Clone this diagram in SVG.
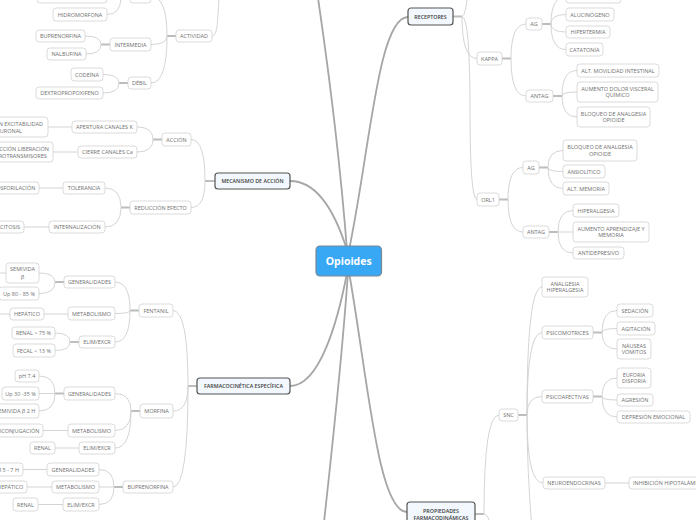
<svg xmlns="http://www.w3.org/2000/svg" width="696" height="520" viewBox="0 0 696 520">
<style>
.n rect{fill:#fff;stroke:#d2d2d2;stroke-width:0.8}
.n text,.m text{font-family:"Open Sans","Liberation Sans",sans-serif;font-size:5.5px;fill:#707070;text-anchor:middle}
.m rect{fill:#f2f8fe;stroke:#555;stroke-width:1.2}
.m text{fill:#3a3a3a;font-weight:600;font-size:5.3px}
.e{text-anchor:end !important}
.st{text-anchor:start !important}
.c path{fill:none;stroke:#cfcfcf;stroke-width:0.9}
.c .s{stroke:#bdbdbd;stroke-width:2}
.c .k{stroke:#a6a6a6;stroke-width:1.8}
</style>
<rect width="696" height="520" fill="#fff"/>
<g id="connectors" class="c">
<!-- center branches -->
<path class="k" d="M347,250 C340,160 330,80 318,-2"/>
<path class="k" d="M349,250 C370,150 378,17 408,17"/>
<path class="k" d="M290,181 C318,181 336,215 347,250"/>
<path class="k" d="M290,386 C320,386 338,320 347,273"/>
<path class="k" d="M348,272 C342,360 332,450 324,522"/>
<path class="k" d="M349,272 C368,380 378,512 407,512"/>
<!-- ACTIVIDAD -->
<path d="M212,36 C219,36 217,12 220,-10"/>
<path class="s" d="M167,36 H176"/>
<path d="M167,36 Q167,-3.5 151,-3.5"/>
<path d="M167,36 Q167,44.5 151,44.5"/>
<path d="M167,36 Q167,83 151,83"/>
<path class="s" d="M121,-3.5 H130"/>
<path d="M121,-3.5 H107"/>
<path d="M121,-3.5 Q121,14.5 107,14.5"/>
<path class="s" d="M101,44.5 H110"/>
<path d="M101,44.5 Q101,36 85,36"/>
<path d="M101,44.5 Q101,54 86,54"/>
<path class="s" d="M119,83 H128"/>
<path d="M119,83 Q119,74.5 103,74.5"/>
<path d="M119,83 Q119,93 103,93"/>
<!-- MECANISMO -->
<path class="s" d="M205,181 H215"/>
<path d="M205,181 Q205,139.5 191,139.5"/>
<path d="M205,181 Q205,207.5 191,207.5"/>
<path class="s" d="M153,139.5 H162"/>
<path d="M153,139.5 Q153,127 137,127"/>
<path d="M153,139.5 Q153,152 137,152"/>
<path d="M48,127 H72"/>
<path d="M53,152 H78"/>
<path class="s" d="M121,207.5 H130"/>
<path d="M121,207.5 Q121,188 105,188"/>
<path d="M121,207.5 Q121,227 105,227"/>
<path d="M39,188 H63"/>
<path d="M24,227 H49"/>
<!-- FARMACOCINETICA -->
<path class="s" d="M188,386 H197"/>
<path d="M188,386 Q188,310.5 173,310.5"/>
<path d="M188,386 Q188,411 173,411"/>
<path d="M188,386 Q188,487 173,487"/>
<path class="s" d="M130,310.5 H139"/>
<path d="M130,310.5 Q130,282 115,282"/>
<path d="M130,310.5 Q130,313.5 115,313.5"/>
<path d="M130,310.5 Q130,342 115,342"/>
<path class="s" d="M55,282 H64"/>
<path d="M55,282 Q55,273 39,273"/>
<path d="M55,282 Q55,293.5 39,293.5"/>
<path d="M0,273 H6"/>
<path d="M44,314 H68"/>
<path d="M0,314 H10"/>
<path class="s" d="M70,342 H79"/>
<path d="M70,342 Q70,333 55,333"/>
<path d="M70,342 Q70,350.5 55,350.5"/>
<path class="s" d="M131,411 H140"/>
<path d="M131,411 Q131,393.5 115,393.5"/>
<path d="M131,411 Q131,430.5 115,430.5"/>
<path d="M131,411 Q131,448 115,448"/>
<path class="s" d="M55,393.5 H64"/>
<path d="M55,393.5 Q55,376 39,376"/>
<path d="M55,393.5 H39"/>
<path d="M55,393.5 Q55,411 39,411"/>
<path d="M43,430.5 H68"/>
<path d="M55,448 H79"/>
<path class="s" d="M114,487 H123"/>
<path d="M114,487 Q114,469.5 99,469.5"/>
<path d="M114,487 H99"/>
<path d="M114,487 Q114,504.5 99,504.5"/>
<path d="M23,469.5 H47"/>
<path d="M27,487 H52"/>
<path d="M38,504.5 H63"/>
<!-- RECEPTORES -->
<path class="s" d="M453,16.5 H462"/>
<path d="M462,16.5 Q466,16.5 468,-12"/>
<path d="M462,16.5 Q462,58.5 477,58.5"/>
<path d="M462,16.5 Q470,16.5 470,110 Q470,199.5 477,199.5"/>
<path class="s" d="M502,58.5 H511"/>
<path d="M511,58.5 Q511,24 526,24"/>
<path d="M511,58.5 Q511,96 526,96"/>
<path class="s" d="M542,24 H551"/>
<path d="M551,24 Q551,-3.5 566,-3.5"/>
<path d="M551,24 Q551,14.5 566,14.5"/>
<path d="M551,24 Q551,32 566,32"/>
<path d="M551,24 Q551,49.5 566,49.5"/>
<path class="s" d="M553,96 H562"/>
<path d="M562,96 Q562,70.5 577,70.5"/>
<path d="M562,96 Q562,92 577,92"/>
<path d="M562,96 Q562,117 577,117"/>
<path class="s" d="M499,199.5 H508"/>
<path d="M508,199.5 Q508,167.5 523,167.5"/>
<path d="M508,199.5 Q508,232 523,232"/>
<path class="s" d="M539,167.5 H548"/>
<path d="M548,167.5 Q548,150.5 563,150.5"/>
<path d="M548,167.5 Q548,171.5 563,171.5"/>
<path d="M548,167.5 Q548,188.5 563,188.5"/>
<path class="s" d="M549,232 H558"/>
<path d="M558,232 Q558,210.5 573,210.5"/>
<path d="M558,232 H573"/>
<path d="M558,232 Q558,253 573,253"/>
<!-- PROPIEDADES -->
<path class="s" d="M475,514 H484"/>
<path d="M484,514 Q484,415 499,415"/>
<path d="M484,514 Q489,514 491,530"/>
<path class="s" d="M518,415 H527"/>
<path d="M527,415 Q527,287 542,287"/>
<path d="M527,415 Q527,332.5 542,332.5"/>
<path d="M527,415 Q527,396.5 542,396.5"/>
<path d="M527,415 Q527,483 543,483"/>
<path d="M527,415 Q527,470 532,530"/>
<path class="s" d="M593,332.5 H602"/>
<path d="M602,332.5 Q602,310.5 617,310.5"/>
<path d="M602,332.5 Q602,328.5 617,328.5"/>
<path d="M602,332.5 Q602,349 617,349"/>
<path class="s" d="M593,396.5 H602"/>
<path d="M602,396.5 Q602,378 617,378"/>
<path d="M602,396.5 Q602,400 617,400"/>
<path d="M602,396.5 Q602,417 617,417"/>
<path d="M605,483 H629"/>
</g>

<g id="center"><rect x="316" y="246" width="65.5" height="30" rx="4" fill="#38a8f5" stroke="#7b8793" stroke-width="1.2"/><text x="348.7" y="265" font-family="'Open Sans','Liberation Sans',sans-serif" font-size="10.5" font-weight="700" fill="#fff" text-anchor="middle">Opioides</text></g>

<g id="receptores" class="m"><rect x="408" y="8" width="45" height="17" rx="3"/><text x="430.5" y="18.5">RECEPTORES</text></g>
<g id="mecanismo" class="m"><rect x="215" y="173" width="75" height="16" rx="3"/><text x="252.5" y="183">MECANISMO DE ACCIÓN</text></g>
<g id="farmaco" class="m"><rect x="197" y="378" width="93" height="16" rx="3"/><text x="243.5" y="388">FARMACOCINÉTICA ESPECÍFICA</text></g>
<g id="propiedades" class="m"><rect x="407" y="502" width="68" height="30" rx="3"/><text x="441" y="513">PROPIEDADES</text><text x="441" y="520">FARMACODINÁMICAS</text></g>

<!-- ACTIVIDAD branch -->
<g id="top1" class="n"><rect x="37" y="-10" width="70" height="13" rx="3"/></g>
<g id="hidromorfona" class="n"><rect x="53" y="8" width="54" height="13" rx="3"/><text x="80" y="16.5">HIDROMORFONA</text></g>
<g id="top2" class="n"><rect x="130" y="-10" width="21" height="13" rx="3"/></g>
<g id="actividad" class="n"><rect x="176" y="30" width="36" height="12" rx="3"/><text x="194" y="38">ACTIVIDAD</text></g>
<g id="intermedia" class="n"><rect x="110" y="38" width="41" height="13" rx="3"/><text x="130.5" y="46.5">INTERMEDIA</text></g>
<g id="buprenorfina1" class="n"><rect x="36" y="30" width="49" height="12" rx="3"/><text x="60.5" y="38">BUPRENORFINA</text></g>
<g id="nalbufina" class="n"><rect x="47" y="48" width="39" height="12" rx="3"/><text x="66.5" y="56">NALBUFINA</text></g>
<g id="debil" class="n"><rect x="128" y="77" width="23" height="12" rx="3"/><text x="139.5" y="85">DÉBIL</text></g>
<g id="codeina" class="n"><rect x="71" y="68" width="32" height="13" rx="3"/><text x="87" y="76.5">CODEÍNA</text></g>
<g id="dextro" class="n"><rect x="36" y="87" width="67" height="12" rx="3"/><text x="69.5" y="95">DEXTROPROPOXIFENO</text></g>

<!-- MECANISMO branch -->
<g id="accion" class="n"><rect x="162" y="133" width="29" height="13" rx="3"/><text x="176.5" y="141.5">ACCIÓN</text></g>
<g id="reduccion" class="n"><rect x="130" y="201" width="61" height="13" rx="3"/><text x="160.5" y="209.5">REDUCCIÓN EFECTO</text></g>
<g id="apertura" class="n"><rect x="72" y="121" width="65" height="12" rx="3"/><text x="104.5" y="129">APERTURA CANALES K</text></g>
<g id="cierre" class="n"><rect x="78" y="146" width="59" height="12" rx="3"/><text x="107.5" y="154">CIERRE CANALES Ca</text></g>
<g id="disminucion" class="n"><rect x="-30" y="117" width="78" height="20" rx="3"/><text class="e" x="43" y="126">DISMINUCIÓN EXCITABILIDAD</text><text class="e" x="22" y="132.7">NEURONAL</text></g>
<g id="reduccionlib" class="n"><rect x="-30" y="142" width="83" height="20" rx="3"/><text class="e" x="49" y="151">REDUCCIÓN LIBERACIÓN</text><text class="e" x="46.7" y="157.7">NEUROTRANSMISORES</text></g>
<g id="tolerancia" class="n"><rect x="63" y="182" width="42" height="12" rx="3"/><text x="84" y="190">TOLERANCIA</text></g>
<g id="fosforilacion" class="n"><rect x="-30" y="182" width="69" height="12" rx="3"/><text class="e" x="35.3" y="190">FOSFORILACIÓN</text></g>
<g id="internalizacion" class="n"><rect x="49" y="221" width="56" height="12" rx="3"/><text x="77" y="229">INTERNALIZACIÓN</text></g>
<g id="endocitosis" class="n"><rect x="-30" y="221" width="54" height="12" rx="3"/><text class="e" x="20" y="229">ENDOCITOSIS</text></g>

<!-- FARMACOCINETICA branch -->
<g id="fentanil" class="n"><rect x="139" y="304" width="34" height="13" rx="3"/><text x="156" y="312.5">FENTANIL</text></g>
<g id="gen1" class="n"><rect x="64" y="276" width="51" height="12" rx="3"/><text x="89.5" y="284">GENERALIDADES</text></g>
<g id="met1" class="n"><rect x="68" y="307" width="47" height="13" rx="3"/><text x="91.5" y="315.5">METABOLISMO</text></g>
<g id="elim1" class="n"><rect x="79" y="336" width="36" height="12" rx="3"/><text x="97" y="344">ELIM/EXCR</text></g>
<g id="semivida1" class="n"><rect x="6" y="263" width="33" height="20" rx="3"/><text x="22.5" y="271.3">SEMIVIDA</text><text x="22.5" y="278.5">β</text></g>
<g id="up1" class="n"><rect x="-1" y="287" width="40" height="13" rx="3"/><text x="19" y="295.5">Up 80 - 85 %</text></g>
<g id="hep1" class="n"><rect x="10" y="308" width="34" height="12" rx="3"/><text x="27" y="316">HEPÁTICO</text></g>
<g id="renal1" class="n"><rect x="12" y="327" width="43" height="12" rx="3"/><text x="33.5" y="335">RENAL &gt; 75 %</text></g>
<g id="fecal1" class="n"><rect x="13" y="344" width="42" height="13" rx="3"/><text x="34" y="352.5">FECAL &lt; 13 %</text></g>
<g id="morfina" class="n"><rect x="140" y="404" width="33" height="14" rx="3"/><text x="156.5" y="413">MORFINA</text></g>
<g id="gen2" class="n"><rect x="64" y="387" width="51" height="13" rx="3"/><text x="89.5" y="395.5">GENERALIDADES</text></g>
<g id="met2" class="n"><rect x="68" y="424" width="47" height="13" rx="3"/><text x="91.5" y="432.5">METABOLISMO</text></g>
<g id="elim2" class="n"><rect x="79" y="442" width="36" height="12" rx="3"/><text x="97" y="450">ELIM/EXCR</text></g>
<g id="ph" class="n"><rect x="15" y="370" width="24" height="12" rx="3"/><text x="27" y="378">pH 7.4</text></g>
<g id="up2" class="n"><rect x="2" y="387" width="37" height="13" rx="3"/><text x="20.5" y="395.5">Up 30 -35 %</text></g>
<g id="semivida2" class="n"><rect x="-20" y="404" width="59" height="14" rx="3"/><text class="e" x="35.3" y="413">SEMIVIDA β 2 H</text></g>
<g id="conjugacion" class="n"><rect x="-30" y="424" width="73" height="13" rx="3"/><text class="e" x="39.5" y="432.5">GLUCURONOCONJUGACIÓN</text></g>
<g id="renal2" class="n"><rect x="30" y="442" width="25" height="12" rx="3"/><text x="42.5" y="450">RENAL</text></g>
<g id="buprenorfina2" class="n"><rect x="123" y="481" width="50" height="12" rx="3"/><text x="148" y="489">BUPRENORFINA</text></g>
<g id="gen3" class="n"><rect x="47" y="463" width="52" height="13" rx="3"/><text x="73" y="471.5">GENERALIDADES</text></g>
<g id="met3" class="n"><rect x="52" y="481" width="47" height="12" rx="3"/><text x="75.5" y="489">METABOLISMO</text></g>
<g id="elim3" class="n"><rect x="63" y="498" width="36" height="13" rx="3"/><text x="81" y="506.5">ELIM/EXCR</text></g>
<g id="sv3" class="n"><rect x="-40" y="463" width="63" height="13" rx="3"/><text class="e" x="19" y="471.5">SEMIVIDA β 5 - 7 H</text></g>
<g id="hep3" class="n"><rect x="-30" y="481" width="57" height="12" rx="3"/><text class="e" x="23.3" y="489">HEPÁTICO</text></g>
<g id="renal3" class="n"><rect x="13" y="498" width="25" height="13" rx="3"/><text x="25.5" y="506.5">RENAL</text></g>

<!-- RECEPTORES branch -->
<g id="kappa" class="n"><rect x="477" y="52" width="25" height="13" rx="3"/><text x="489.5" y="60.5">KAPPA</text></g>
<g id="ag1" class="n"><rect x="526" y="18" width="16" height="12" rx="3"/><text x="534" y="26">AG</text></g>
<g id="topag" class="n"><rect x="566" y="-10" width="55" height="13" rx="3"/></g>
<g id="alucinogeno" class="n"><rect x="566" y="8" width="48" height="13" rx="3"/><text x="590" y="16.5">ALUCINÓGENO</text></g>
<g id="hipertermia" class="n"><rect x="566" y="26" width="44" height="12" rx="3"/><text x="588" y="34">HIPERTERMIA</text></g>
<g id="catatonia" class="n"><rect x="566" y="43" width="37" height="13" rx="3"/><text x="584.5" y="51.5">CATATONÍA</text></g>
<g id="antag1" class="n"><rect x="526" y="90" width="27" height="12" rx="3"/><text x="539.5" y="98">ANTAG</text></g>
<g id="altmov" class="n"><rect x="577" y="64" width="82" height="13" rx="3"/><text x="618" y="72.5">ALT. MOVILIDAD INTESTINAL</text></g>
<g id="aumdolor" class="n"><rect x="577" y="82" width="81" height="20" rx="3"/><text x="617.5" y="90.7">AUMENTO DOLOR VISCERAL</text><text x="617.5" y="97.4">QUÍMICO</text></g>
<g id="bloqueo1" class="n"><rect x="577" y="107" width="73" height="20" rx="3"/><text x="613.5" y="115.7">BLOQUEO DE ANALGESIA</text><text x="613.5" y="122.4">OPIOIDE</text></g>
<g id="orl1" class="n"><rect x="477" y="193" width="22" height="13" rx="3"/><text x="488" y="201.5">ORL1</text></g>
<g id="ag2" class="n"><rect x="523" y="161" width="16" height="13" rx="3"/><text x="531" y="169.5">AG</text></g>
<g id="antag2" class="n"><rect x="523" y="226" width="26" height="12" rx="3"/><text x="536" y="234">ANTAG</text></g>
<g id="bloqueo2" class="n"><rect x="563" y="140" width="74" height="21" rx="3"/><text x="600" y="149.2">BLOQUEO DE ANALGESIA</text><text x="600" y="155.9">OPIOIDE</text></g>
<g id="ansiolitico" class="n"><rect x="563" y="165" width="42" height="13" rx="3"/><text x="584" y="173.5">ANSIOLÍTICO</text></g>
<g id="altmemoria" class="n"><rect x="563" y="182" width="46" height="13" rx="3"/><text x="586" y="190.5">ALT. MEMORIA</text></g>
<g id="hiperalgesia" class="n"><rect x="573" y="204" width="46" height="13" rx="3"/><text x="596" y="212.5">HIPERALGESIA</text></g>
<g id="aumapr" class="n"><rect x="573" y="222" width="76" height="20" rx="3"/><text x="611" y="230.7">AUMENTO APRENDIZAJE Y</text><text x="611" y="237.4">MEMORIA</text></g>
<g id="antidepresivo" class="n"><rect x="573" y="247" width="51" height="12" rx="3"/><text x="598.5" y="255">ANTIDEPRESIVO</text></g>

<!-- PROPIEDADES branch -->
<g id="snc" class="n"><rect x="499" y="409" width="19" height="12" rx="3"/><text x="508.5" y="417">SNC</text></g>
<g id="analgesia" class="n"><rect x="542" y="277" width="46" height="20" rx="3"/><text x="565" y="285.7">ANALGESIA</text><text x="565" y="292.4">HIPERALGESIA</text></g>
<g id="psicomotrices" class="n"><rect x="542" y="326" width="51" height="13" rx="3"/><text x="567.5" y="334.5">PSICOMOTRICES</text></g>
<g id="psicoafectivas" class="n"><rect x="542" y="390" width="51" height="13" rx="3"/><text x="567.5" y="398.5">PSICOAFECTIVAS</text></g>
<g id="neuroendocrinas" class="n"><rect x="543" y="477" width="62" height="12" rx="3"/><text x="574" y="485">NEUROENDOCRINAS</text></g>
<g id="inhibicion" class="n"><rect x="629" y="477" width="85" height="12" rx="3"/><text class="st" x="633" y="485">INHIBICIÓN HIPOTALÁMICA</text></g>
<g id="sedacion" class="n"><rect x="617" y="304" width="36" height="13" rx="3"/><text x="635" y="312.5">SEDACIÓN</text></g>
<g id="agitacion" class="n"><rect x="617" y="322" width="38" height="13" rx="3"/><text x="636" y="330.5">AGITACIÓN</text></g>
<g id="nauseas" class="n"><rect x="617" y="339" width="34" height="20" rx="3"/><text x="634" y="347.7">NÁUSEAS</text><text x="634" y="354.4">VÓMITOS</text></g>
<g id="euforia" class="n"><rect x="617" y="368" width="34" height="20" rx="3"/><text x="634" y="376.7">EUFORIA</text><text x="634" y="383.4">DISFORIA</text></g>
<g id="agresion" class="n"><rect x="617" y="394" width="36" height="12" rx="3"/><text x="635" y="402">AGRESIÓN</text></g>
<g id="depresion" class="n"><rect x="617" y="411" width="73" height="12" rx="3"/><text x="653.5" y="419">DEPRESIÓN EMOCIONAL</text></g>
</svg>
